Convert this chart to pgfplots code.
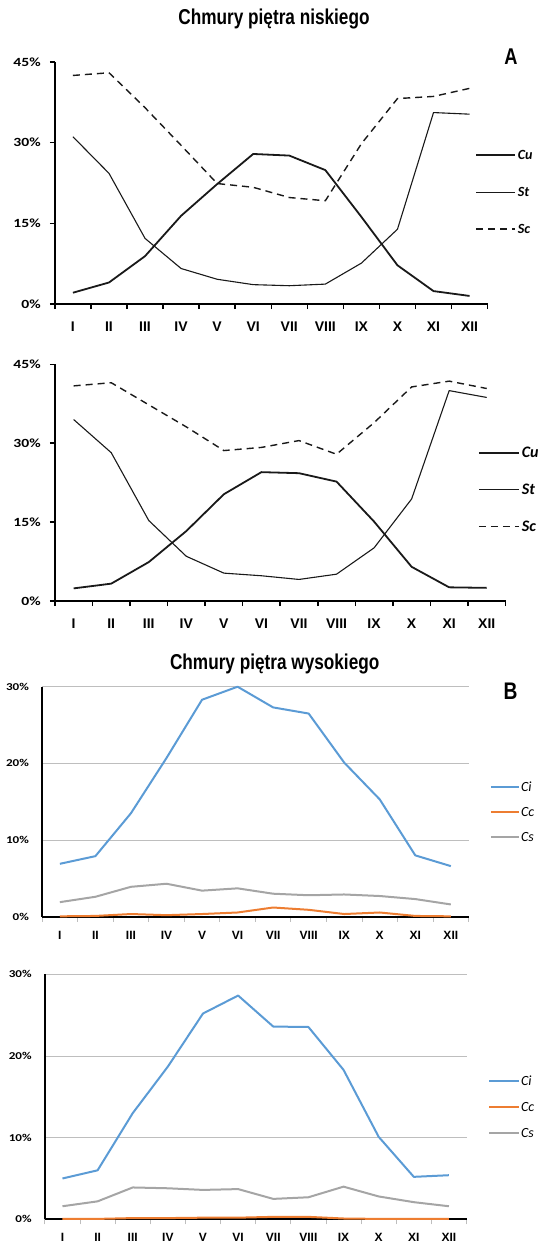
\documentclass[border=0pt]{standalone}
\usepackage{fontspec}
\setmainfont{Carlito}
\newfontfamily\condfont[FakeStretch=0.8]{Liberation Sans}
\newfontfamily\xlabfont{Liberation Sans}
\newfontfamily\ylabfont[FakeStretch=1.25]{Carlito}
\usepackage{pgfplots}
\pgfplotsset{compat=1.18}
\usepackage{pgfplotstable}

% Low clouds, station A (upper) and station B (lower), % of observations
\pgfplotstableread{
m Cu St Sc
1 2.1 31.1 42.5
2 4.0 24.3 43.0
3 8.9 12.2 36.5
4 16.4 6.6 29.5
5 22.3 4.6 22.4
6 27.9 3.6 21.7
7 27.6 3.4 19.8
8 24.9 3.7 19.2
9 16.2 7.6 29.8
10 7.2 13.9 38.2
11 2.4 35.6 38.6
12 1.5 35.3 40.1
}\lowA
\pgfplotstableread{
m Cu St Sc
1 2.4 34.5 40.9
2 3.3 28.2 41.5
3 7.4 15.3 37.3
4 13.3 8.5 33.1
5 20.3 5.3 28.6
6 24.5 4.8 29.2
7 24.3 4.1 30.5
8 22.7 5.1 27.9
9 15.1 10.1 33.9
10 6.5 19.4 40.7
11 2.6 40.0 41.8
12 2.5 38.7 40.4
}\lowB
% High clouds
\pgfplotstableread{
m Ci Cc Cs
1 6.9 0.05 1.9
2 7.9 0.10 2.6
3 13.5 0.35 3.9
4 20.7 0.20 4.3
5 28.3 0.35 3.4
6 30.0 0.55 3.7
7 27.3 1.20 3.0
8 26.5 0.90 2.8
9 20.1 0.35 2.9
10 15.3 0.55 2.7
11 8.0 0.10 2.3
12 6.6 0.05 1.6
}\highA
\pgfplotstableread{
m Ci Cc Cs
1 5.0 0.05 1.6
2 6.0 0.05 2.2
3 13.0 0.15 3.9
4 18.7 0.15 3.8
5 25.2 0.20 3.6
6 27.4 0.20 3.7
7 23.6 0.30 2.5
8 23.55 0.30 2.7
9 18.3 0.10 4.0
10 10.1 0.05 2.8
11 5.2 0.05 2.1
12 5.4 0.05 1.6
}\highB

\definecolor{ciblue}{RGB}{91,155,213}
\definecolor{ccorange}{RGB}{237,125,49}
\definecolor{csgray}{RGB}{165,165,165}
\definecolor{gridgray}{RGB}{190,190,190}

\pgfplotsset{
  months/.style={
    scale only axis, clip=false,
    xmin=0.5, xmax=12.5, ymin=0,
    xtick={0.5,1.5,2.5,3.5,4.5,5.5,6.5,7.5,8.5,9.5,10.5,11.5,12.5},
    xticklabels={I,II,III,IV,V,VI,VII,VIII,IX,X,XI,XII},
    x tick label as interval,
    axis x line*=bottom, axis y line*=left,
    tick align=outside,
    legend cell align=left,
  },
  lowaxis/.style={
    months, ymax=45,
    ytick={0,15,30,45}, yticklabels={0\%,15\%,30\%,45\%},
    major tick length=5pt,
    x axis line style={line width=2pt},
    y axis line style={line width=2.3pt},
    xtick style={line width=1.5pt, black},
    ytick style={line width=1.5pt, black},
    xticklabel style={font=\xlabfont\bfseries\fontsize{14}{14}\selectfont, anchor=north, inner sep=0pt},
    xticklabel shift=13pt,
    yticklabel style={font=\ylabfont\bfseries\fontsize{12.5}{12.5}\selectfont, anchor=east, inner sep=0pt},
    yticklabel shift=9pt,
  },
  highaxis/.style={
    months, ymax=30,
    ytick={0,10,20,30}, yticklabels={0\%,10\%,20\%,30\%},
    ymajorgrids, grid style={gridgray, line width=0.8pt},
    major tick length=5pt,
    x axis line style={line width=2pt},
    y axis line style={line width=1.5pt},
    xtick style={line width=0.8pt, gridgray},
    ytick style={draw=none},
    xticklabel style={font=\xlabfont\bfseries\fontsize{12}{12}\selectfont, anchor=north, inner sep=0pt},
    xticklabel shift=9pt,
    yticklabel style={font=\ylabfont\bfseries\fontsize{10.5}{10.5}\selectfont, anchor=east, inner sep=0pt},
    yticklabel shift=8pt,
  },
  cu/.style={line width=1.8pt, black!90, line join=round},
  st/.style={line width=1.1pt, black!90, line join=round},
  sc/.style={line width=1.4pt, black!90, dash pattern=on 7pt off 5pt},
  ci/.style={line width=2pt, ciblue, line join=round},
  cc/.style={line width=2pt, ccorange, line join=round},
  cs/.style={line width=2pt, csgray, line join=round},
}

\begin{document}
\begin{tikzpicture}
\useasboundingbox (0pt,0pt) rectangle (541pt,-1245pt);

\node[anchor=base, inner sep=0pt, font=\condfont\bfseries\fontsize{21.5}{21.5}\selectfont] at (274pt,-24pt) {Chmury piętra niskiego};
\node[anchor=base, inner sep=0pt, font=\condfont\bfseries\fontsize{21.5}{21.5}\selectfont] at (274.7pt,-669pt) {Chmury piętra wysokiego};
\node[anchor=base, inner sep=0pt, font=\condfont\bfseries\fontsize{22.8}{22.8}\selectfont] at (511pt,-64pt) {A};
\node[anchor=base, inner sep=0pt, font=\condfont\bfseries\fontsize{24}{24}\selectfont] at (510.5pt,-699.3pt) {B};

% Low clouds, upper panel
\begin{axis}[lowaxis, at={(54.9pt,-304pt)}, anchor=south west,
  width=432.7pt, height=242pt,
  legend style={at={(0.972,0.634)}, anchor=north west, draw=none, fill=none,
    inner sep=0pt, outer sep=0pt, row sep=28pt, column sep=2pt,
    font=\bfseries\itshape\fontsize{14}{14}\selectfont,
    nodes={inner sep=0pt, text height=9pt, text depth=0pt}},
  legend image code/.code={\draw[#1] (0pt,0pt) -- (38.5pt,0pt);},
]
\addplot[cu] table[x=m, y=Cu] {\lowA};
\addplot[st] table[x=m, y=St] {\lowA};
\addplot[sc] table[x=m, y=Sc] {\lowA};
\legend{Cu,St,Sc}
\end{axis}

% Low clouds, lower panel
\begin{axis}[lowaxis, at={(54.9pt,-601pt)}, anchor=south west,
  width=450.6pt, height=236.7pt,
  legend style={at={(0.939,0.6485)}, anchor=north west, draw=none, fill=none,
    inner sep=0pt, outer sep=0pt, row sep=26.6pt, column sep=2pt,
    font=\bfseries\itshape\fontsize{16}{16}\selectfont,
    nodes={inner sep=0pt, text height=10.3pt, text depth=0pt}},
  legend image code/.code={\draw[#1] (0pt,0pt) -- (40pt,0pt);},
]
\addplot[cu] table[x=m, y=Cu] {\lowB};
\addplot[st] table[x=m, y=St] {\lowB};
\addplot[sc] table[x=m, y=Sc] {\lowB};
\legend{Cu,St,Sc}
\end{axis}

% High clouds, upper panel
\begin{axis}[highaxis, at={(42.1pt,-916.7pt)}, anchor=south west,
  width=426.5pt, height=230pt,
  legend style={at={(1.050,0.585)}, anchor=north west, draw=none, fill=none,
    inner sep=0pt, outer sep=0pt, row sep=16pt, column sep=1.5pt,
    font=\itshape\fontsize{14}{14}\selectfont,
    nodes={inner sep=0pt, text height=9pt, text depth=0pt}},
  legend image code/.code={\draw[#1] (0pt,0pt) -- (27.6pt,0pt);},
]
\addplot[ci] table[x=m, y=Ci] {\highA};
\addplot[cc] table[x=m, y=Cc] {\highA};
\addplot[cs] table[x=m, y=Cs] {\highA};
\legend{Ci,Cc,Cs}
\end{axis}

% High clouds, lower panel
\begin{axis}[highaxis, at={(44.9pt,-1219.3pt)}, anchor=south west,
  width=421.6pt, height=245pt,
  legend style={at={(1.051,0.583)}, anchor=north west, draw=none, fill=none,
    inner sep=0pt, outer sep=0pt, row sep=16.85pt, column sep=1.5pt,
    font=\itshape\fontsize{14}{14}\selectfont,
    nodes={inner sep=0pt, text height=9pt, text depth=0pt}},
  legend image code/.code={\draw[#1] (0pt,0pt) -- (29.6pt,0pt);},
]
\addplot[ci] table[x=m, y=Ci] {\highB};
\addplot[cc] table[x=m, y=Cc] {\highB};
\addplot[cs] table[x=m, y=Cs] {\highB};
\legend{Ci,Cc,Cs}
\end{axis}
\end{tikzpicture}
\end{document}
